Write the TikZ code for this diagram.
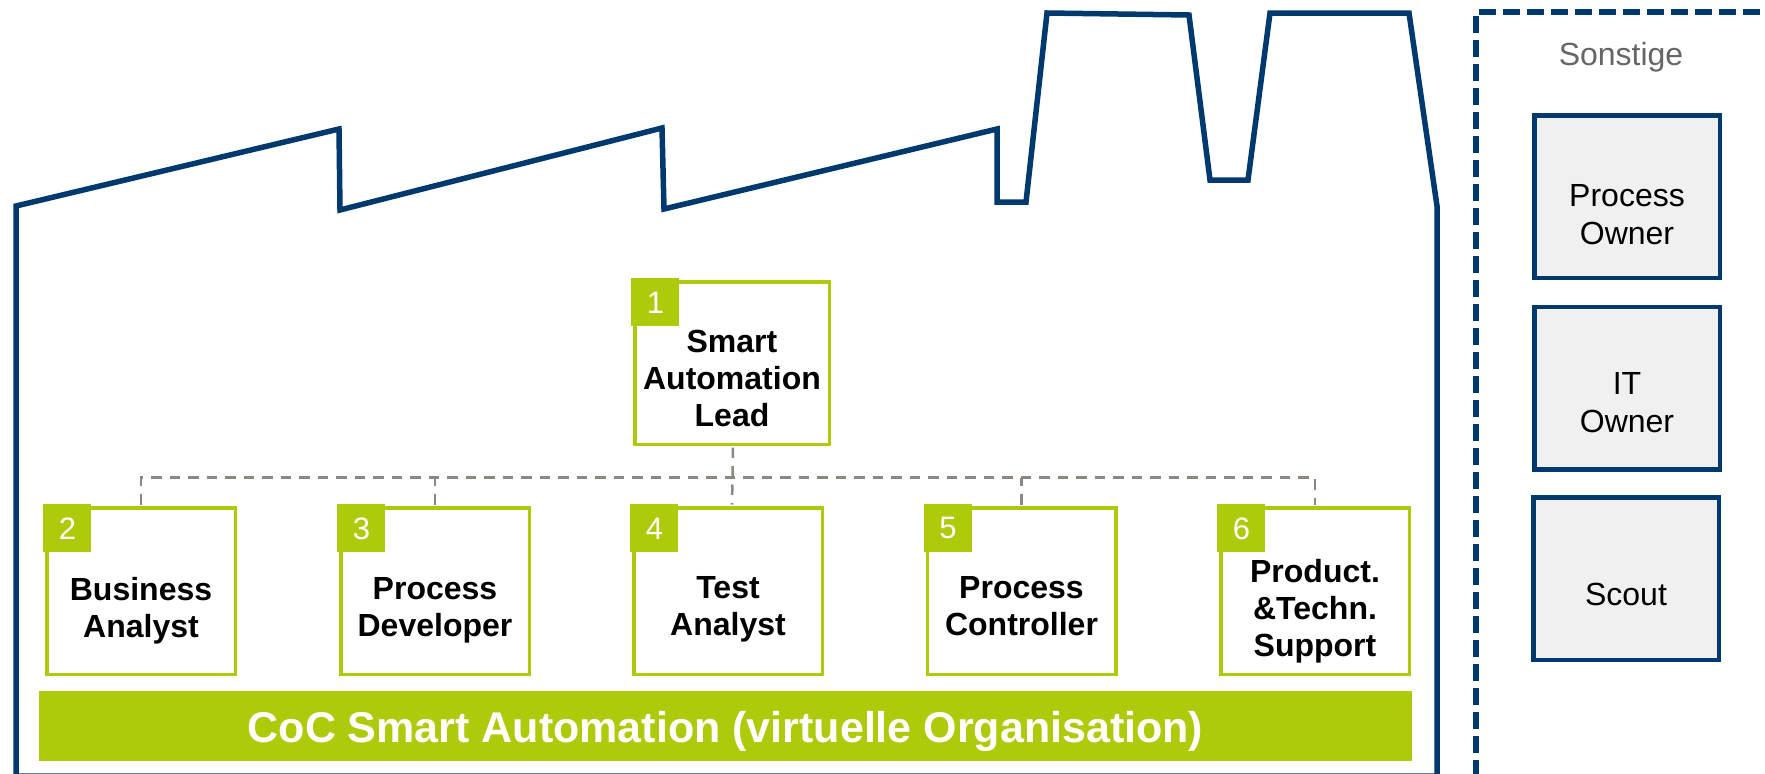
\documentclass[tikz,border=0pt]{standalone}
\usepackage{fontspec}
\setmainfont{Liberation Sans}
\usetikzlibrary{calc}
\definecolor{navy}{HTML}{00396E}
\definecolor{cocgreen}{HTML}{AFCA0B}
\definecolor{conngrey}{HTML}{8E8781}
\definecolor{boxgrey}{HTML}{F0F0F0}
\definecolor{labelgrey}{HTML}{666666}
\begin{document}
\begin{tikzpicture}[x=1pt,y=-1pt,
  wall/.style={draw=navy,line width=5.5pt,line join=miter},
  otherframe/.style={draw=navy,line width=6pt,dash pattern=on 17pt off 7pt},
  rolebox/.style={draw=cocgreen,line width=3.5pt,fill=white,minimum width=188.5pt,minimum height=166.5pt,inner sep=0pt},
  numsq/.style={fill=cocgreen,text=white,minimum size=48pt,inner sep=0pt,font=\fontsize{31pt}{33pt}\selectfont},
  roletext/.style={anchor=north,inner sep=0pt,align=center,font=\fontsize{32pt}{37pt}\selectfont\bfseries},
  greybox/.style={draw=navy,line width=4.5pt,fill=boxgrey,minimum width=185.5pt,minimum height=162.5pt,inner sep=0pt},
  greytext/.style={inner sep=0pt,align=center,font=\fontsize{32pt}{38pt}\selectfont},
  conn/.style={draw=conngrey,line width=2.5pt,dash pattern=on 10.5pt off 8pt},
  bar/.style={fill=cocgreen,minimum width=1373pt,minimum height=70pt,inner sep=0pt}
]
\useasboundingbox (0,0) rectangle (1765,774);
\clip (0,0) rectangle (1765,774);

% factory outline
\draw[wall] (16,776) -- (16,206) -- (339,129) -- (340,210) -- (662,128) -- (664,209)
  -- (997,129) -- (997,202) -- (1026,202) -- (1047,13) -- (1189,15) -- (1210,180)
  -- (1248,180) -- (1270,13) -- (1409,13) -- (1437,206) -- (1437,776) -- cycle;

% dashed frame on the right
\draw[otherframe] (1476,777) -- (1476,12) -- (1800,12);
\node[greytext,anchor=base,text=labelgrey] (sonst) at (1621,65) {Sonstige};

% grey boxes
\node[greybox] (po) at (1627,196.5) {};
\node[greytext,anchor=north] (pot) at (1627,184) {Process\\Owner};
\node[greybox] (ito) at (1627,388) {};
\node[greytext,anchor=north] (itot) at (1627,372) {IT\\Owner};
\node[greybox] (sc) at (1626,578.5) {};
\node[greytext,anchor=base] (sct) at (1626,605) {Scout};

% role boxes
\node[rolebox,minimum width=194.5pt,minimum height=162.5pt] (b1) at (732,363) {};
\node[rolebox] (b2) at (141,591) {};
\node[rolebox] (b3) at (435,591) {};
\node[rolebox] (b4) at (728,591) {};
\node[rolebox] (b5) at (1021.5,591) {};
\node[rolebox] (b6) at (1315,591) {};

% connectors
\coordinate (bus) at (0,477.5);
\draw[conn,shorten >=1.5pt] (b1.south) ++(1,1.5) -- (b1.south |- b4.north);
\draw[conn] ($(b2.north)+(0,-1.5)$) -- (b2.north |- bus) -- (b6.north |- bus) -- ($(b6.north)+(0,-1.5)$);
\draw[conn] ($(b3.north)+(0,-1.5)$) -- (b3.north |- bus);
\draw[conn] ($(b5.north)+(0,-1.5)$) -- (b5.north |- bus);

% number squares
\node[numsq,anchor=north west] (n1) at ($(b1.north west)+(-1.75,-1.75)$) {1};
\node[numsq,anchor=north west] (n2) at ($(b2.north west)+(-1.75,-1.75)$) {2};
\node[numsq,anchor=north west] (n3) at ($(b3.north west)+(-1.75,-1.75)$) {3};
\node[numsq,anchor=north west] (n4) at ($(b4.north west)+(-1.75,-1.75)$) {4};
\node[numsq,anchor=north west] (n5) at ($(b5.north west)+(-1.75,-1.75)$) {5};
\node[numsq,anchor=north west] (n6) at ($(b6.north west)+(-1.75,-1.75)$) {6};

% role texts
\node[roletext] (t1) at (732,330) {Smart\\Automation\\Lead};
\node[roletext] (t2) at (141,577) {Business\\Analyst};
\node[roletext] (t3) at (435,577) {Process\\Developer};
\node[roletext] (t4) at (728,576) {Test\\Analyst};
\node[roletext] (t5) at (1021.5,576) {Process\\Controller};
\node[roletext] (t6) at (1315,559) {Product.\\\&Techn.\\Support};

% CoC bar
\node[bar] (coc) at (725.5,726) {};
\node[anchor=base,inner sep=0pt,text=white,font=\fontsize{43pt}{47pt}\selectfont\bfseries] (coct) at (725.5,742) {CoC Smart Automation (virtuelle Organisation)};
\end{tikzpicture}
\end{document}
